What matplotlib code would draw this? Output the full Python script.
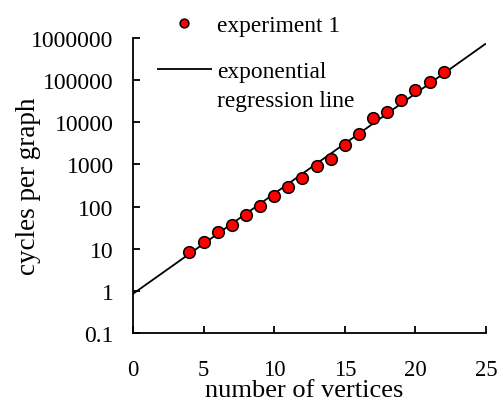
import numpy as np
import matplotlib
matplotlib.use("Agg")
import matplotlib.pyplot as plt
from matplotlib.lines import Line2D

plt.rcParams['font.family'] = ['Liberation Serif', 'DejaVu Serif']

# measured cycles per graph
vertices = [4, 5, 6, 7, 8, 9, 10, 11, 12, 13, 14, 15, 16, 17, 18, 19, 20, 21, 22]
cycles = [8.3, 14.3, 24.6, 37, 64, 102, 175, 296, 468, 900, 1343, 2930, 5160,
          12400, 17200, 33000, 58000, 89700, 155000]

# exponential regression: cycles = fit_scale * 10 ** (fit_log_slope * n)
fit_scale = 0.85
fit_log_slope = 0.2376

xticks = [0, 5, 10, 15, 20, 25]
yticks = [0.1, 1, 10, 100, 1000, 10000, 100000, 1000000]
ytick_labels = ['0.1', '1', '10', '100', '1000', '10000', '100000', '1000000']

fig = plt.figure(figsize=(5.03, 4.02), dpi=100)
ax = fig.add_axes([133 / 503, 1 - 334 / 402, (486 - 133) / 503, (334 - 39) / 402])

n = np.linspace(0, 25, 200)
line, = ax.plot(n, fit_scale * 10 ** (fit_log_slope * n), color='black', lw=1.3,
                solid_capstyle='butt')
pts, = ax.plot(vertices, cycles, 'o', ms=8.4, mfc='#ff0000', mec='black', mew=1.1,
               clip_on=False, zorder=3)

ax.set_yscale('log')
ax.set_xlim(0, 25)
ax.set_ylim(0.1, 1000000)
ax.set_xticks(xticks)
ax.set_xticklabels([str(t) for t in xticks])
ax.set_yticks(yticks)
ax.set_yticklabels(ytick_labels)
ax.yaxis.set_minor_locator(matplotlib.ticker.NullLocator())

for s in ['top', 'right']:
    ax.spines[s].set_visible(False)
for s in ['left', 'bottom']:
    ax.spines[s].set_linewidth(1.3)

ax.tick_params(axis='both', direction='in', length=5, width=1.3)
ax.tick_params(axis='x', pad=19, labelsize=16.3)
ax.tick_params(axis='y', pad=14, labelsize=17)

ax.set_xlabel('number of vertices', fontsize=19)
ax.xaxis.set_label_coords(0.486, -0.157)
ax.set_ylabel('cycles per graph', fontsize=19.5)
ax.yaxis.set_label_coords(-0.261, 0.5)

# legend: marker entry on top, line entry with a two-line caption below
leg_font = 16.8
blank = Line2D([], [], color='none')
leg1 = fig.legend([pts], ['experiment 1'], loc='center left',
                  bbox_to_anchor=(157 / 503, 1 - 26 / 402), frameon=False,
                  fontsize=leg_font, handlelength=2.35, handletextpad=0.22,
                  borderpad=0, borderaxespad=0, markerscale=0.75)
leg2 = fig.legend([line, blank], ['exponential', 'regression line'],
                  loc='upper left', bbox_to_anchor=(157 / 503, 1 - 62 / 402),
                  frameon=False, fontsize=leg_font, handlelength=2.35,
                  handletextpad=0.22, labelspacing=0.3, borderpad=0,
                  borderaxespad=0)

fig.savefig('out.png', dpi=100)
